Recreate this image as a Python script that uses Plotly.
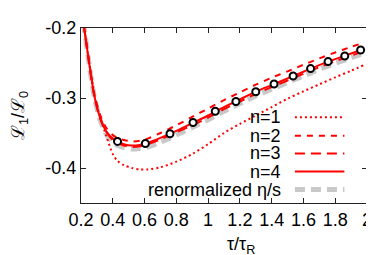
import plotly.graph_objects as go

# ---- data ----
tau = [0.2, 0.22, 0.25, 0.285, 0.32, 0.36, 0.4, 0.43, 0.47, 0.52, 0.57, 0.62, 0.7,
       0.8, 0.9, 1.0, 1.1, 1.2, 1.3, 1.4, 1.5, 1.6, 1.7, 1.8, 1.9, 1.98]

n1 = [-0.17, -0.2, -0.247, -0.297, -0.327, -0.355, -0.38, -0.39, -0.396, -0.400, -0.402,
      -0.402, -0.399, -0.391, -0.380, -0.366, -0.350, -0.337, -0.325, -0.313, -0.301,
      -0.2905, -0.2805, -0.2705, -0.261, -0.253]
n2 = [-0.17, -0.2, -0.246, -0.295, -0.324, -0.343, -0.353, -0.357, -0.360, -0.362, -0.361,
      -0.358, -0.350, -0.339, -0.327, -0.315, -0.303, -0.292, -0.281, -0.271, -0.262,
      -0.2525, -0.2435, -0.235, -0.227, -0.221]
n3 = [-0.17, -0.2, -0.249, -0.299, -0.329, -0.349, -0.360, -0.364, -0.368, -0.370, -0.369,
      -0.366, -0.359, -0.349, -0.339, -0.328, -0.316, -0.305, -0.294, -0.2845, -0.275,
      -0.2655, -0.256, -0.2475, -0.2395, -0.233]
n4 = [-0.17, -0.2, -0.248, -0.298, -0.328, -0.348, -0.358, -0.362, -0.366, -0.368, -0.367,
      -0.364, -0.357, -0.347, -0.336, -0.325, -0.313, -0.302, -0.291, -0.2815, -0.272,
      -0.2625, -0.253, -0.2445, -0.2365, -0.230]
renorm = [-0.17, -0.2, -0.25, -0.300, -0.331, -0.352, -0.363, -0.368, -0.371, -0.373, -0.372,
          -0.370, -0.363, -0.353, -0.342, -0.331, -0.319, -0.308, -0.297, -0.2875, -0.278,
          -0.2685, -0.259, -0.2505, -0.2425, -0.236]

circ_x = [0.43, 0.605, 0.76, 0.905, 1.045, 1.175, 1.3, 1.415, 1.535, 1.645, 1.755, 1.86, 1.96]
circ_y = [-0.362, -0.365, -0.351, -0.335, -0.319, -0.305, -0.291, -0.280, -0.2685, -0.258,
          -0.248, -0.240, -0.2315]

x_ticks = [0.2, 0.4, 0.6, 0.8, 1.0, 1.2, 1.4, 1.6, 1.8, 2.0]
x_tick_labels = ["0.2", "0.4", "0.6", "0.8", "1", "1.2", "1.4", "1.6", "1.8", "2"]
y_ticks = [-0.4, -0.3, -0.2]
y_tick_labels = ["-0.4", "-0.3", "-0.2"]

names = ["n=1", "n=2", "n=3", "n=4", "renormalized η/s"]

# ---- styles ----
RED = "#ff0000"
GRAY = "#c8c8c8"
styles = {
    "n=1": dict(color=RED, width=2, dash="2px,3px"),
    "n=2": dict(color=RED, width=2, dash="6px,6px"),
    "n=3": dict(color=RED, width=2, dash="10px,6px"),
    "n=4": dict(color=RED, width=2, dash="solid"),
    "renormalized η/s": dict(color=GRAY, width=5, dash="10px,6px"),
}
series = {"n=1": n1, "n=2": n2, "n=3": n3, "n=4": n4, "renormalized η/s": renorm}

fig = go.Figure()
for nm in ["renormalized η/s", "n=1", "n=2", "n=3", "n=4"]:
    fig.add_trace(go.Scatter(x=tau, y=series[nm], mode="lines", name=nm,
                             line=dict(shape="spline", smoothing=0.8, **styles[nm]),
                             showlegend=False))
fig.add_trace(go.Scatter(x=circ_x, y=circ_y, mode="markers", showlegend=False,
                         marker=dict(symbol="circle", size=7, color="white",
                                     line=dict(color="black", width=2))))

# ---- manual legend (text left of sample line) ----
shapes = []
annotations = []
row_y = [0.490, 0.385, 0.283, 0.180, 0.077]
for nm, yy in zip(names, row_y):
    st = styles[nm]
    shapes.append(dict(type="line", xref="paper", yref="paper", x0=0.748, x1=0.921,
                       y0=yy, y1=yy,
                       line=dict(color=st["color"], width=st["width"], dash=st["dash"])))
    annotations.append(dict(xref="paper", yref="paper", x=0.708, y=yy, text=nm,
                            showarrow=False, xanchor="right", yanchor="middle",
                            font=dict(size=18)))

annotations.append(dict(xref="paper", yref="paper", x=0.559, y=-0.243,
                        text="τ/τ<sub>R</sub>", showarrow=False,
                        xanchor="center", yanchor="middle", font=dict(size=18)))
annotations.append(dict(xref="paper", yref="paper", x=-0.215, y=0.5,
                        text="ℒ<sub>1</sub>/ℒ<sub>0</sub>", showarrow=False, textangle=-90,
                        xanchor="center", yanchor="middle", font=dict(size=18)))

axis_common = dict(showline=True, linecolor="#222", linewidth=1, mirror="ticks",
                   ticks="inside", ticklen=5, tickcolor="#222", showgrid=False,
                   zeroline=False)
fig.update_layout(
    width=374, height=255,
    margin=dict(l=73, r=11, t=10, b=60),
    paper_bgcolor="white", plot_bgcolor="white",
    font=dict(family="Liberation Sans, Arial, sans-serif", size=18, color="black"),
    xaxis=dict(range=[0.2, 2.0], tickvals=x_ticks, ticktext=x_tick_labels, **axis_common),
    yaxis=dict(range=[-0.45, -0.2], tickvals=y_ticks, ticktext=y_tick_labels, **axis_common),
    shapes=shapes, annotations=annotations,
)
fig.write_html("out.html")
